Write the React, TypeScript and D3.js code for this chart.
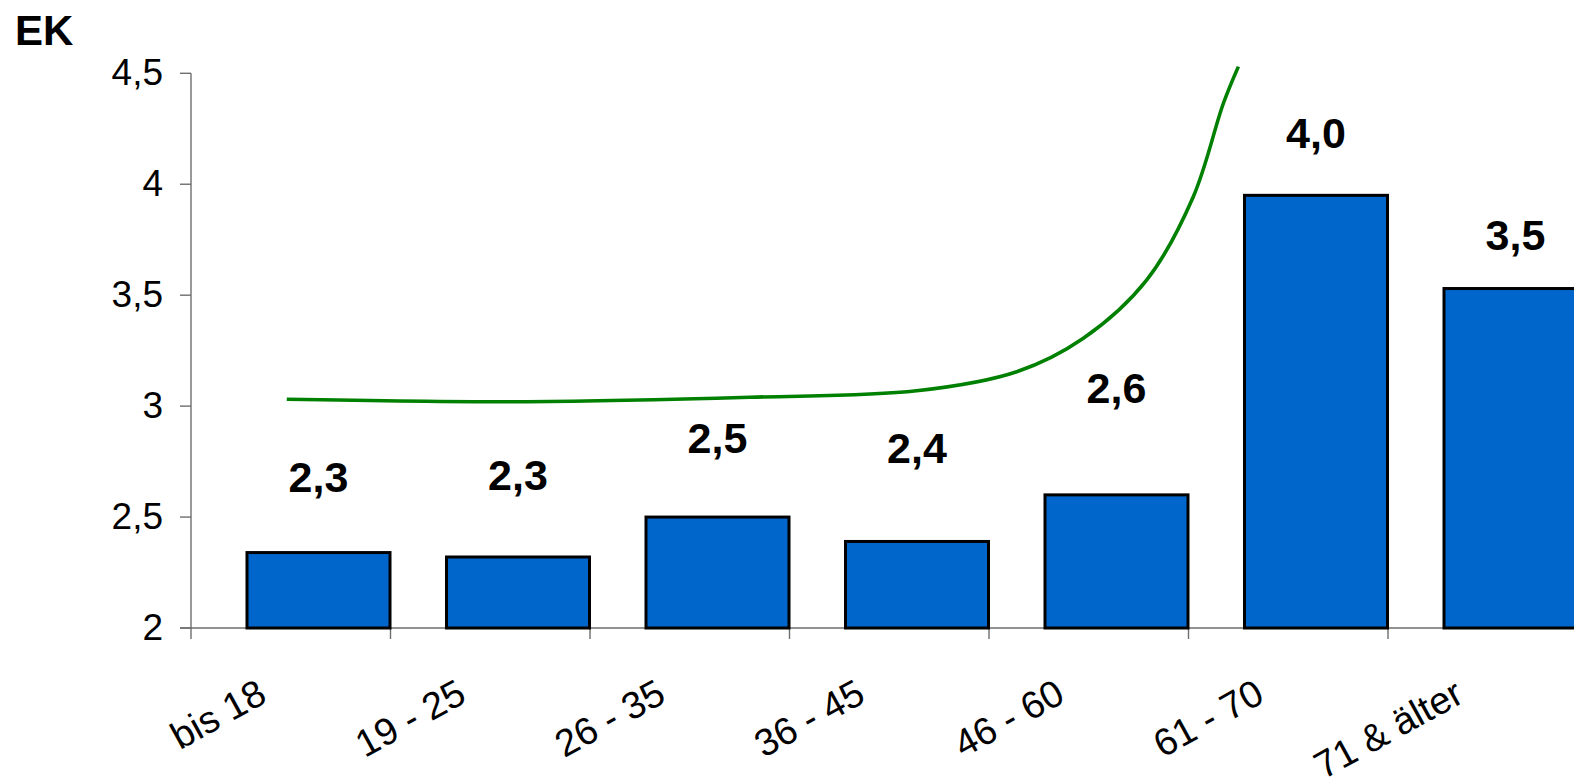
import React from "react";
import * as d3 from "d3";

const categories = ["bis 18", "19 - 25", "26 - 35", "36 - 45", "46 - 60", "61 - 70", "71 & älter"];
const barValues = [2.34, 2.32, 2.5, 2.39, 2.6, 3.95, 3.53];
const barLabels = ["2,3", "2,3", "2,5", "2,4", "2,6", "4,0", "3,5"];
const labelAt = [2.614, 2.622, 2.787, 2.742, 3.013, 4.162, 3.703];
const yTicks = [2, 2.5, 3, 3.5, 4, 4.5];
const yTickLabels = ["2", "2,5", "3", "3,5", "4", "4,5"];
// green curve, x in category units from the axis origin
const lineX = [0.48, 1.683, 2.802, 3.637, 4.139, 4.473, 4.79, 5.024, 5.175, 5.25];
const lineY = [3.031, 3.02, 3.04, 3.069, 3.155, 3.306, 3.568, 3.944, 4.365, 4.53];

const W = 1574;
const H = 782;
const x0 = 191;
const catW = 199.5;
const yBottom = 628;
const yTop = 73.3;

export default function App() {
  const x = d3.scaleBand<string>().domain(categories).range([x0, x0 + catW * categories.length]).padding(0);
  const xc = d3.scaleLinear().domain([0, categories.length]).range([x0, x0 + catW * categories.length]);
  const y = d3.scaleLinear().domain([2, 4.5]).range([yBottom, yTop]);
  const line = d3
    .line<number>()
    .x((_, i) => xc(lineX[i]))
    .y((d) => y(d))
    .curve(d3.curveCatmullRom.alpha(0.5));
  const font = "'Liberation Sans', Arial, sans-serif";
  const axisColor = "#6e6e6e";
  const angle = 29;

  return (
    <svg width={W} height={H} style={{ position: "absolute", left: 0, top: 0, background: "#fff" }} fontFamily={font}>
      <text x={15} y={45} fontSize={42} fontWeight="bold" fill="#000">EK</text>
      {/* y axis */}
      <line x1={x0} x2={x0} y1={yTop} y2={yBottom + 11} stroke={axisColor} strokeWidth={1.4} />
      {yTicks.map((t, i) => (
        <g key={"yt" + i}>
          <line x1={x0 - 11} x2={x0} y1={y(t)} y2={y(t)} stroke={axisColor} strokeWidth={1.4} />
          <text x={163} y={y(t) + 11.7} fontSize={37} textAnchor="end" fill="#000">{yTickLabels[i]}</text>
        </g>
      ))}
      {/* x axis */}
      <line x1={x0 - 11} x2={W} y1={yBottom} y2={yBottom} stroke={axisColor} strokeWidth={1.4} />
      {categories.map((c, i) => (
        <line key={"xt" + i} x1={(x(c) as number) + catW} x2={(x(c) as number) + catW} y1={yBottom} y2={yBottom + 11} stroke={axisColor} strokeWidth={1.4} />
      ))}
      {/* bars */}
      {categories.map((c, i) => (
        <rect
          key={"b" + i}
          x={(x(c) as number) + 56}
          y={y(barValues[i])}
          width={143}
          height={yBottom - y(barValues[i])}
          fill="#0066CC"
          stroke="#000"
          strokeWidth={3}
        />
      ))}
      {/* green curve */}
      <path d={line(lineY) || ""} fill="none" stroke="#008000" strokeWidth={3.6} strokeLinecap="butt" />
      {/* bar labels */}
      {categories.map((c, i) => (
        <text
          key={"l" + i}
          x={(x(c) as number) + 127.5}
          y={y(labelAt[i])}
          fontSize={43}
          fontWeight="bold"
          textAnchor="middle"
          fill="#000"
        >
          {barLabels[i]}
        </text>
      ))}
      {/* category labels */}
      {categories.map((c, i) => {
        const px = (x(c) as number) + catW / 2 - 22;
        const py = 701;
        return (
          <text key={"c" + i} x={px} y={py} fontSize={38} textAnchor="end" fill="#000" transform={`rotate(${-angle}, ${px}, ${py})`}>
            {c}
          </text>
        );
      })}
    </svg>
  );
}
